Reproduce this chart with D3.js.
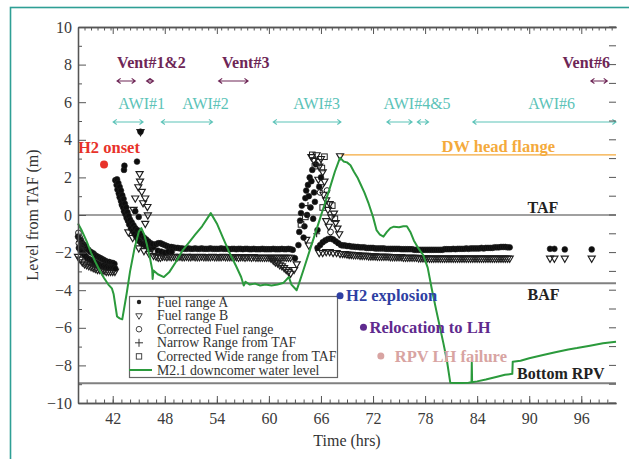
<!DOCTYPE html>
<html>
<head>
<meta charset="utf-8">
<script src="https://cdn.jsdelivr.net/npm/d3@7"></script>
<style>
  body { margin: 0; background: #fff; }
  svg { display: block; font-family: "Liberation Serif", "Times New Roman", serif; }
</style>
</head>
<body>
<svg id="chart" width="629" height="459"></svg>
<script>
// ---------------- data ----------------
const xTickLabels = [42, 48, 54, 60, 66, 72, 78, 84, 90, 96];
const yTickLabels = [10, 8, 6, 4, 2, 0, -2, -4, -6, -8, -10];

// MELCOR 2.1 downcomer water level [time h, level m]
const downcomerLevel = [
  [38.0,-0.45],[38.4,-0.8],[39.0,-1.4],[39.5,-2.0],[40.0,-2.5],[40.5,-2.95],[41.0,-3.35],[41.5,-3.7],
  [41.9,-3.9],[42.1,-4.2],[42.5,-5.4],[42.8,-5.5],[43.1,-5.55],[43.6,-4.2],[44.0,-3.0],[44.5,-1.8],
  [45.0,-0.9],[45.3,-0.7],[45.6,-1.0],[45.9,-1.5],[46.3,-2.3],[46.55,-2.9],[46.6,-3.4],[46.7,-2.95],
  [47.2,-3.15],[47.9,-3.3],[48.5,-3.05],[49.2,-2.55],[50.1,-1.85],[50.8,-1.45],[51.5,-1.05],[52.3,-0.6],
  [53.3,0.1],[54.0,-0.45],[54.7,-1.2],[55.35,-1.9],[56.2,-2.7],[56.8,-3.3],[57.1,-3.75],[57.3,-3.55],
  [57.8,-3.7],[58.4,-3.65],[59.0,-3.75],[59.6,-3.7],[60.3,-3.75],[61.0,-3.7],[61.7,-3.6],[62.0,-3.45],
  [62.3,-3.3],[62.6,-3.7],[63.2,-4.0],[63.5,-3.6],[64.0,-2.9],[64.8,-1.75],[65.5,-0.75],[66.3,0.4],
  [67.0,1.4],[67.6,2.3],[68.2,3.05],[68.6,2.85],[69.0,2.8],[69.4,2.65],[69.8,2.3],[70.2,2.0],
  [70.5,1.7],[71.0,1.2],[71.5,0.6],[72.0,-0.1],[72.4,-0.8],[72.8,-1.05],[73.2,-1.15],[73.6,-0.9],
  [74.0,-0.7],[74.4,-0.62],[75.0,-0.65],[75.5,-0.6],[75.9,-0.6],[76.3,-0.9],[76.7,-1.35],[77.2,-1.75],
  [77.8,-2.15],[78.3,-2.8],[78.8,-4.0],[79.3,-5.1],[79.7,-5.95],[80.1,-6.8],[80.5,-7.7],[80.9,-8.92],
  [81.5,-8.93],[82.2,-8.93],[83.0,-8.92],[83.35,-8.9],[83.38,-7.85],[83.42,-8.9],[84.0,-8.85],[85.0,-8.75],
  [86.3,-8.6],[87.2,-8.5],[88.05,-8.45],[88.1,-7.8],[89.0,-7.75],[90.0,-7.62],[91.6,-7.45],[93.0,-7.3],
  [94.5,-7.15],[95.5,-7.08],[97.0,-6.95],[98.5,-6.82],[100.0,-6.74]
];

// Fuel range A readings [time h, level m]
const fuelRangeA = [
  // early decline
  [38.0,-1.15],[38.2,-1.3],[38.4,-1.45],[38.6,-1.55],[38.8,-1.65],[39.0,-1.8],[39.2,-1.85],[39.4,-1.95],
  [39.6,-2.0],[39.8,-2.05],[40.0,-2.15],[40.2,-2.2],[40.4,-2.25],[40.6,-2.3],[40.8,-2.35],[41.0,-2.4],
  [41.2,-2.45],[41.4,-2.5],[41.6,-2.5],[41.8,-2.55],[42.0,-2.55],[42.2,-2.6],
  [38.1,-1.75],[38.3,-1.9],[38.5,-2.0],[38.7,-2.1],[38.9,-2.2],[39.1,-2.3],[39.3,-2.35],[39.5,-2.4],
  [39.7,-2.45],[39.9,-2.5],[40.1,-2.55],[40.3,-2.6],[40.5,-2.65],[40.7,-2.7],[40.9,-2.7],[41.1,-2.75],
  [41.3,-2.75],[41.5,-2.8],[41.7,-2.8],[41.9,-2.8],[42.1,-2.8],[42.3,-2.85],
  // first recovery
  [42.3,1.85],[42.45,1.6],[42.55,1.35],[42.7,1.15],[42.8,0.95],[42.95,0.75],[43.05,0.55],[43.2,0.4],
  [43.3,0.2],[43.45,0.05],[43.6,-0.15],[43.75,-0.3],[43.9,-0.5],[44.1,-0.7],[44.3,-0.85],[44.5,-1.0],
  [44.7,-1.15],[44.9,-1.3],[45.1,-1.4],[45.3,-1.5],[45.5,-1.55],[45.7,-1.6],[45.9,-1.65],[46.1,-1.7],
  [46.3,-1.75],[46.5,-1.75],[46.7,-1.7],
  [42.5,1.9],[42.65,1.7],[42.8,1.5],[42.95,1.3],[43.1,1.05],[43.25,0.85],[43.4,0.6],[43.55,0.4],
  [43.7,0.15],[43.85,-0.05],[44.0,-0.25],[44.2,-0.4],[44.4,-0.55],[44.6,-0.7],[44.85,-0.8],[45.1,-0.95],
  [45.35,-1.1],[45.6,-1.2],[45.85,-1.3],[46.1,-1.4],[46.35,-1.5],[46.6,-1.55],
  [43.3,2.4],[43.35,2.62],[44.8,2.84],[45.2,4.43],[44.6,0.2],[45.0,-0.1],
  // steady period
  [47.0,-1.55],[47.25,-1.5],[47.5,-1.5],[47.75,-1.55],[48.0,-1.6],[48.25,-1.65],[48.5,-1.7],[48.75,-1.7],
  [49.0,-1.72],[49.25,-1.75],[49.5,-1.75],[49.75,-1.78],[50.0,-1.78],[50.25,-1.8],[50.5,-1.8],[50.75,-1.78],
  [51.0,-1.8],[51.25,-1.8],[51.5,-1.78],[51.75,-1.8],[52.0,-1.8],[52.25,-1.78],[52.5,-1.8],[52.75,-1.8],
  [53.0,-1.8],[53.25,-1.78],[53.5,-1.8],[53.75,-1.8],[54.0,-1.8],[54.25,-1.8],[54.5,-1.78],[54.75,-1.8],
  [55.0,-1.8],[55.25,-1.8],[55.5,-1.82],[55.75,-1.8],[56.0,-1.8],[56.25,-1.82],[56.5,-1.8],[56.75,-1.8],
  [57.0,-1.82],[57.25,-1.8],[57.5,-1.8],[57.75,-1.82],[58.0,-1.82],[58.25,-1.8],[58.5,-1.82],[58.75,-1.82],
  [59.0,-1.82],[59.25,-1.8],[59.5,-1.82],[59.75,-1.82],[60.0,-1.82],[60.25,-1.82],[60.5,-1.8],[60.75,-1.82],
  [61.0,-1.82],[61.25,-1.82],[61.5,-1.8],[61.75,-1.82],[62.0,-1.82],[62.25,-1.8],[62.5,-1.82],[62.75,-1.85],
  [47.2,-1.9],[47.6,-1.95],[48.0,-2.0],[48.4,-1.95],[48.8,-1.95],
  // second recovery
  [63.0,-2.3],[63.4,-1.6],[63.5,-0.9],[63.6,-0.3],[63.7,0.1],[63.8,0.5],[64.0,-1.2],[64.1,-0.6],
  [64.2,0.9],[64.3,1.3],[64.4,0.0],[64.5,1.6],[64.6,1.0],[64.7,2.0],[64.8,0.4],[64.9,1.8],
  [65.0,2.4],[65.1,-0.2],[65.2,1.2],[65.3,0.7],[65.4,2.7],[65.6,-0.8],[65.8,1.5],[66.0,2.0],
  [65.6,-1.75],[65.9,-1.6],[66.2,-1.45],[66.5,-1.35],[66.8,-1.28],[67.1,-1.25],[67.4,-1.3],[67.7,-1.4],
  [68.0,-1.5],[68.3,-1.6],
  // late period
  [68.5,-1.62],[68.75,-1.62],[69.0,-1.65],[69.25,-1.65],[69.5,-1.68],[69.75,-1.68],[70.0,-1.7],[70.25,-1.7],
  [70.5,-1.72],[70.75,-1.72],[71.0,-1.72],[71.25,-1.75],[71.5,-1.75],[71.75,-1.75],[72.0,-1.75],[72.25,-1.78],
  [72.5,-1.78],[72.75,-1.78],[73.0,-1.78],[73.25,-1.78],[73.5,-1.8],[73.75,-1.8],[74.0,-1.8],[74.25,-1.8],
  [74.5,-1.8],[74.75,-1.8],[75.0,-1.8],[75.25,-1.82],[75.5,-1.82],[75.75,-1.82],[76.0,-1.82],[76.25,-1.82],
  [76.5,-1.82],[76.75,-1.85],[77.0,-1.85],[77.25,-1.85],[77.5,-1.85],[77.75,-1.85],[78.0,-1.85],[78.25,-1.85],
  [78.5,-1.85],[78.75,-1.85],[79.0,-1.85],[79.25,-1.85],[79.5,-1.85],[79.75,-1.85],[80.0,-1.85],[80.25,-1.82],
  [80.5,-1.82],[80.75,-1.82],[81.0,-1.82],[81.25,-1.8],[81.5,-1.82],[81.75,-1.8],[82.0,-1.8],[82.25,-1.8],
  [82.5,-1.8],[82.75,-1.78],[83.0,-1.8],[83.25,-1.78],[83.5,-1.78],[83.75,-1.78],[84.0,-1.78],[84.25,-1.78],
  [84.5,-1.75],[84.75,-1.78],[85.0,-1.75],[85.25,-1.75],[85.5,-1.75],[85.75,-1.75],[86.0,-1.72],[86.25,-1.72],
  [86.5,-1.72],[86.75,-1.7],[87.0,-1.7],[87.25,-1.7],[87.5,-1.72],[87.75,-1.72],
  [92.4,-1.8],[92.9,-1.8],[94.1,-1.83],[97.2,-1.83]
];

// Fuel range B readings [time h, level m]
const fuelRangeB = [
  [38.0,-2.2],[38.25,-2.35],[38.5,-2.5],[38.75,-2.6],[39.0,-2.65],[39.25,-2.7],[39.5,-2.75],[39.75,-2.8],
  [40.0,-2.85],[40.25,-2.9],[40.5,-2.9],[40.75,-2.95],[41.0,-2.95],[41.25,-3.0],[41.5,-3.0],[41.75,-3.0],
  [42.0,-3.0],[42.25,-3.0],
  [45.1,2.2],[45.15,1.8],[44.95,1.5],[45.35,1.25],[45.75,0.9],[46.0,0.45],[46.05,0.0],[45.75,-0.45],
  [45.2,4.43],[45.5,0.65],[44.6,0.9],[44.4,0.3],[43.8,-0.9],[44.3,-1.2],[45.0,-1.75],[45.6,-1.9],
  [46.2,-2.05],[46.7,-2.15],
  [47.0,-2.2],[47.25,-2.25],[47.5,-2.25],[47.75,-2.2],[48.0,-2.2],[48.25,-2.22],[48.5,-2.2],[48.75,-2.22],
  [49.0,-2.2],[49.25,-2.22],[49.5,-2.22],[49.75,-2.2],[50.0,-2.22],[50.25,-2.22],[50.5,-2.2],[50.75,-2.22],
  [51.0,-2.22],[51.25,-2.2],[51.5,-2.22],[51.75,-2.22],[52.0,-2.22],[52.25,-2.2],[52.5,-2.22],[52.75,-2.22],
  [53.0,-2.22],[53.25,-2.22],[53.5,-2.2],[53.75,-2.22],[54.0,-2.22],[54.25,-2.22],[54.5,-2.22],[54.75,-2.2],
  [55.0,-2.22],[55.25,-2.22],[55.5,-2.22],[55.75,-2.22],[56.0,-2.22],[56.25,-2.22],[56.5,-2.25],[56.75,-2.22],
  [57.0,-2.22],[57.25,-2.25],[57.5,-2.22],[57.75,-2.22],[58.0,-2.25],[58.25,-2.22],[58.5,-2.25],[58.75,-2.25],
  [59.0,-2.25],[59.25,-2.25],[59.5,-2.25],[59.75,-2.25],[60.0,-2.25],[60.25,-2.25],[60.5,-2.25],[60.75,-2.25],
  [61.0,-2.25],[61.25,-2.25],[61.5,-2.25],[61.75,-2.25],[62.0,-2.25],[62.25,-2.25],[62.5,-2.25],
  [60.25,-2.3],[60.5,-2.4],[60.75,-2.5],[61.0,-2.55],[61.25,-2.65],[61.5,-2.7],[61.75,-2.8],[62.0,-2.9],
  [62.25,-3.0],[62.5,-3.1],
  [64.9,3.1],[65.2,2.9],[65.5,3.2],[65.8,2.6],[66.0,3.0],[66.2,2.3],[65.7,1.9],[66.0,1.5],
  [66.3,1.1],[66.6,0.8],[66.4,1.8],[66.8,0.3],[67.0,0.6],[67.2,-0.1],[67.5,0.1],[67.7,-0.4],
  [67.9,-0.7],[68.1,-1.0],[66.6,-0.3],[66.9,-0.6],[64.3,-1.3],[64.6,-1.6],[63.2,-2.6],[62.9,-2.9],
  [68.2,3.15],
  [65.8,-2.0],[66.2,-2.0],[66.6,-1.95],[67.0,-1.95],[67.4,-2.0],[67.8,-2.0],[68.2,-2.05],[68.5,-2.05],
  [68.75,-2.05],[69.0,-2.08],[69.25,-2.1],[69.5,-2.1],[69.75,-2.12],[70.0,-2.12],[70.25,-2.12],[70.5,-2.15],
  [70.75,-2.15],[71.0,-2.15],[71.25,-2.15],[71.5,-2.18],[71.75,-2.18],[72.0,-2.18],[72.25,-2.18],[72.5,-2.2],
  [72.75,-2.2],[73.0,-2.2],[73.25,-2.2],[73.5,-2.2],[73.75,-2.2],[74.0,-2.22],[74.25,-2.22],[74.5,-2.22],
  [74.75,-2.22],[75.0,-2.22],[75.25,-2.22],[75.5,-2.25],[75.75,-2.25],[76.0,-2.25],[76.25,-2.25],[76.5,-2.25],
  [76.75,-2.25],[77.0,-2.25],[77.25,-2.28],[77.5,-2.28],[77.75,-2.28],[78.0,-2.28],[78.25,-2.28],[78.5,-2.3],
  [78.75,-2.3],[79.0,-2.3],[79.25,-2.3],[79.5,-2.3],[79.75,-2.3],[80.0,-2.3],[80.25,-2.3],[80.5,-2.3],
  [80.75,-2.3],[81.0,-2.3],[81.25,-2.3],[81.5,-2.3],[81.75,-2.3],[82.0,-2.3],[82.25,-2.3],[82.5,-2.3],
  [82.75,-2.3],[83.0,-2.3],[83.25,-2.3],[83.5,-2.3],[83.75,-2.3],[84.0,-2.3],[84.25,-2.3],[84.5,-2.3],
  [84.75,-2.3],[85.0,-2.3],[85.25,-2.3],[85.5,-2.3],[85.75,-2.3],[86.0,-2.3],[86.25,-2.3],[86.5,-2.3],
  [86.75,-2.3],[87.0,-2.3],[87.25,-2.3],[87.5,-2.3],[87.75,-2.3],
  [92.4,-2.3],[92.9,-2.3],[94.1,-2.3],[97.2,-2.3]
];

const correctedFuelRange = [[38.05,-0.95],[38.2,-1.2],[38.35,-1.35],[38.1,-1.5],[38.5,-1.6],[65.9,1.2],[66.7,1.3],[67.1,-0.9]];
const narrowRangeTAF = [[38.3,-1.6],[38.6,-1.8],[64.5,0.5],[65.5,-1.0]];
const correctedWideRangeTAF = [[65.0,3.2],[65.3,2.6],[65.7,2.8],[66.1,2.5],[66.4,3.1],[66.2,0.4],[67.3,0.5],[67.6,-0.2],[64.2,-0.1],[63.7,-0.5]];

// reference elevations (m from TAF)
const referenceLevels = [
  { name: "TAF", level: 0 },
  { name: "BAF", level: -3.63 },
  { name: "Bottom RPV", level: -8.95 }
];
const flange = { name: "DW head flange", level: 3.2, from: 68.3 };

// operator actions: venting and alternative water injection windows [start h, end h]
const ventSpans = [[42.5, 44.6], [45.9, 46.7], [54.2, 57.6], [97.1, 99.0]];
const ventNames = [["Vent#1&2", 42.5], ["Vent#3", 54.6], ["Vent#6", 99.3]];
const awiSpans = [[42.05, 45.5], [47.6, 53.5], [60.5, 68.3], [73.6, 76.5], [77.1, 78.4], [83.5, 100]];
const awiNames = [["AWI#1", 42.65], ["AWI#2", 50.0], ["AWI#3", 62.8], ["AWI#4&5", 73.2], ["AWI#6", 89.9]];

// key events [label, time h, level m]
const events = [
  ["H2 onset", 41.0, 2.68],
  ["H2 explosion", 68.2, -4.3],
  ["Relocation to LH", 70.9, -5.97],
  ["RPV LH failure", 72.9, -7.5]
];
const eventColors = ["#e8322a", "#2f3fa3", "#5f2a8e", "#d8a4a2"];

const legendItems = ["Fuel range A", "Fuel range B", "Corrected Fuel range",
  "Narrow Range from TAF", "Corrected Wide range from TAF", "M2.1 downcomer water level"];

// ---------------- drawing ----------------
(function draw() {
const svg = d3.select("#chart");
const pL = 78, pR = 616, pT = 27, pB = 403;
const x = d3.scaleLinear().domain([38, 100]).range([pL, pR]);
const y = d3.scaleLinear().domain([-10, 10]).range([pB, pT]);

const GREEN = "#2b9a3c", TEAL = "#5cc3b8", VENT = "#6e2656", AXIS = "#555";

// outer frame
svg.append("rect").attr("x", 10.5).attr("y", 7.5).attr("width", 650).attr("height", 480)
  .attr("fill", "none").attr("stroke", "#2e9f95").attr("stroke-width", 1.6);

const plot = svg.append("g");

// reference elevation lines
plot.selectAll("line.ref").data(referenceLevels).join("line")
  .attr("x1", pL).attr("x2", pR)
  .attr("y1", d => y(d.level)).attr("y2", d => y(d.level))
  .attr("stroke", "#808080").attr("stroke-width", (d, i) => i === 0 ? 1.6 : 2.2);

plot.append("line")
  .attr("x1", x(flange.from)).attr("x2", pR)
  .attr("y1", y(flange.level)).attr("y2", y(flange.level))
  .attr("stroke", "#f4aa3c").attr("stroke-width", 1.4);

// measurement markers
const tri = d3.symbol(d3.symbolTriangle, 22);
plot.append("g").selectAll("path").data(fuelRangeB).join("path")
  .attr("d", tri)
  .attr("transform", d => `translate(${x(d[0])},${y(d[1])}) rotate(180)`)
  .attr("fill", "none").attr("stroke", "#1e1e1e").attr("stroke-width", 1.15);

plot.append("g").selectAll("circle").data(fuelRangeA).join("circle")
  .attr("cx", d => x(d[0])).attr("cy", d => y(d[1])).attr("r", 2.9)
  .attr("fill", "#0d0d0d").attr("stroke", "#222").attr("stroke-width", 0.6);

plot.append("g").selectAll("circle").data(correctedFuelRange).join("circle")
  .attr("cx", d => x(d[0])).attr("cy", d => y(d[1])).attr("r", 2.9)
  .attr("fill", "none").attr("stroke", "#222").attr("stroke-width", 1);

plot.append("g").selectAll("path").data(narrowRangeTAF).join("path")
  .attr("d", "M-3.5,0H3.5M0,-3.5V3.5")
  .attr("transform", d => `translate(${x(d[0])},${y(d[1])})`)
  .attr("stroke", "#222").attr("stroke-width", 1.1);

plot.append("g").selectAll("rect").data(correctedWideRangeTAF).join("rect")
  .attr("x", d => x(d[0]) - 2.8).attr("y", d => y(d[1]) - 2.8)
  .attr("width", 5.6).attr("height", 5.6)
  .attr("fill", "none").attr("stroke", "#222").attr("stroke-width", 1);

// downcomer level line
plot.append("path").datum(downcomerLevel)
  .attr("d", d3.line().x(d => x(d[0])).y(d => y(d[1])))
  .attr("fill", "none").attr("stroke", GREEN).attr("stroke-width", 2)
  .attr("stroke-linejoin", "round");

// double-headed span arrows
function spanArrow(g, t0, t1, level, color) {
  const a = x(t0), b = x(t1), yy = y(level), h = 2.6;
  g.append("path")
    .attr("d", `M${a},${yy}H${b}M${a + h + 1},${yy - h}L${a},${yy}L${a + h + 1},${yy + h}M${b - h - 1},${yy - h}L${b},${yy}L${b - h - 1},${yy + h}`)
    .attr("fill", "none").attr("stroke", color).attr("stroke-width", 1.1);
}
const gSpans = plot.append("g");
ventSpans.forEach(s => spanArrow(gSpans, s[0], s[1], 7.13, VENT));
awiSpans.forEach(s => spanArrow(gSpans, s[0], s[1], 4.95, TEAL));

gSpans.selectAll("text.vent").data(ventNames).join("text").attr("class", "vent")
  .attr("x", d => x(d[1])).attr("y", y(7.8))
  .attr("text-anchor", (d, i) => i === ventNames.length - 1 ? "end" : "start")
  .attr("font-size", 16).attr("font-weight", "bold").attr("fill", VENT)
  .text(d => d[0]);

gSpans.selectAll("text.awi").data(awiNames).join("text").attr("class", "awi")
  .attr("x", d => x(d[1])).attr("y", y(5.66))
  .attr("font-size", 16).attr("fill", TEAL)
  .text(d => d[0]);

// reference labels
plot.append("text").attr("x", x(89.8)).attr("y", y(referenceLevels[0].level) - 2)
  .attr("font-size", 16).attr("font-weight", "bold").attr("fill", "#222").text(referenceLevels[0].name);
plot.append("text").attr("x", x(89.8)).attr("y", y(referenceLevels[1].level) + 17)
  .attr("font-size", 16).attr("font-weight", "bold").attr("fill", "#222").text(referenceLevels[1].name);
plot.append("text").attr("x", x(88.6)).attr("y", y(referenceLevels[2].level) - 4)
  .attr("font-size", 16).attr("font-weight", "bold").attr("fill", "#222").text(referenceLevels[2].name);
plot.append("text").attr("x", x(79.9)).attr("y", y(flange.level) - 3)
  .attr("font-size", 16.5).attr("font-weight", "bold").attr("fill", "#f4aa3c").text(flange.name);

// legend
const lg = plot.append("g").attr("transform", "translate(129,296)");
lg.append("rect").attr("x", 0.5).attr("y", 0.5).attr("width", 208).attr("height", 81)
  .attr("fill", "#fff").attr("stroke", "#666").attr("stroke-width", 1.2);
const rowY = i => 6 + i * 13.6;
lg.selectAll("text").data(legendItems).join("text")
  .attr("x", 28).attr("y", (d, i) => rowY(i) + 4.5)
  .attr("font-size", 13.8).attr("fill", "#333").text(d => d);
lg.append("circle").attr("cx", 10).attr("cy", rowY(0)).attr("r", 2.2).attr("fill", "#222");
lg.append("path").attr("d", d3.symbol(d3.symbolTriangle, 18)).attr("transform", `translate(10,${rowY(1)}) rotate(180)`)
  .attr("fill", "none").attr("stroke", "#333").attr("stroke-width", 0.9);
lg.append("circle").attr("cx", 10).attr("cy", rowY(2)).attr("r", 2.8)
  .attr("fill", "none").attr("stroke", "#333").attr("stroke-width", 0.9);
lg.append("path").attr("d", `M6,${rowY(3)}H14M10,${rowY(3) - 4}V${rowY(3) + 4}`)
  .attr("stroke", "#333").attr("stroke-width", 1);
lg.append("rect").attr("x", 7.3).attr("y", rowY(4) - 2.7).attr("width", 5.4).attr("height", 5.4)
  .attr("fill", "none").attr("stroke", "#333").attr("stroke-width", 0.9);
lg.append("line").attr("x1", 0).attr("x2", 23).attr("y1", rowY(5)).attr("y2", rowY(5))
  .attr("stroke", GREEN).attr("stroke-width", 2);

// key events
const ge = plot.append("g");
ge.selectAll("circle").data(events).join("circle")
  .attr("cx", d => x(d[1])).attr("cy", d => y(d[2]))
  .attr("r", (d, i) => i === 0 ? 4 : 3.5)
  .attr("fill", (d, i) => eventColors[i]);
ge.selectAll("text").data(events).join("text")
  .attr("x", (d, i) => i === 0 ? x(38.0) : x(d[1]) + (i === 3 ? 14 : 6))
  .attr("y", (d, i) => i === 0 ? y(d[2]) - 12 : y(d[2]) + 5.5)
  .attr("font-size", 16.5).attr("font-weight", "bold")
  .attr("fill", (d, i) => eventColors[i]).text(d => d[0]);

// axes
const axes = svg.append("g").attr("color", AXIS);
axes.append("g").attr("transform", `translate(0,${pB})`)
  .call(d3.axisBottom(x).tickValues(xTickLabels).tickSize(-7).tickSizeOuter(0).tickPadding(10));
axes.append("g").attr("transform", `translate(0,${pB})`)
  .call(d3.axisBottom(x).tickValues(d3.range(39, 100, 1)).tickSize(-3.5).tickSizeOuter(0).tickFormat(""));
axes.append("g").attr("transform", `translate(0,${pT})`)
  .call(d3.axisTop(x).tickValues(xTickLabels).tickSize(-7).tickSizeOuter(0).tickFormat(""));
axes.append("g").attr("transform", `translate(0,${pT})`)
  .call(d3.axisTop(x).tickValues(d3.range(38.75, 100, 0.75)).tickSize(-3.5).tickSizeOuter(0).tickFormat(""));
axes.append("g").attr("transform", `translate(${pL},0)`)
  .call(d3.axisLeft(y).tickValues(yTickLabels).tickSize(-8).tickSizeOuter(0).tickPadding(6));
axes.append("g").attr("transform", `translate(${pL},0)`)
  .call(d3.axisLeft(y).tickValues(d3.range(-9, 10, 2)).tickSize(-4).tickSizeOuter(0).tickFormat(""));
// right-side tick marks (no spine)
axes.append("g").selectAll("line").data(d3.range(-10, 11, 1)).join("line")
  .attr("x1", pR - 7).attr("x2", pR).attr("y1", d => y(d)).attr("y2", d => y(d))
  .attr("stroke", AXIS).attr("stroke-width", 1);

axes.selectAll(".domain").attr("stroke-width", 1.3);
axes.selectAll("text").attr("font-size", 16).attr("fill", "#3a3a3a")
  .attr("font-family", "'Liberation Serif', serif");

// axis titles
svg.append("text").attr("x", 347).attr("y", 446).attr("text-anchor", "middle")
  .attr("font-size", 16).attr("fill", "#333").text("Time (hrs)");
svg.append("text").attr("transform", "translate(38,215) rotate(-90)").attr("text-anchor", "middle")
  .attr("font-size", 16).attr("fill", "#333").text("Level from TAF (m)");
})();
</script>
</body>
</html>
